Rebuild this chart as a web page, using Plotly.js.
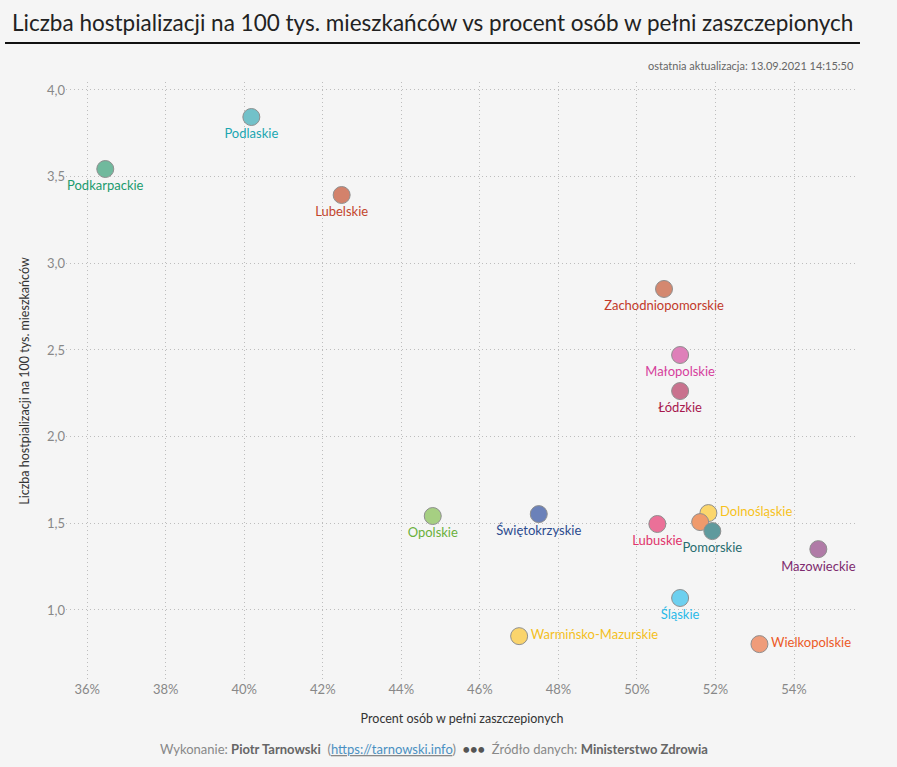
<!DOCTYPE html>
<html><head><meta charset="utf-8">
<script src="https://cdn.plot.ly/plotly-3.0.1.min.js"></script>
<style>html,body{margin:0;padding:0;background:#f5f5f5;}#chart{width:897px;height:767px;}</style>
</head><body><div id="chart"></div>
<script>
const regions = ["Podkarpackie","Podlaskie","Lubelskie","Zachodniopomorskie","Małopolskie","Łódzkie","Opolskie","Świętokrzyskie","Lubuskie","Dolnośląskie","Kujawsko-Pomorskie","Pomorskie","Mazowieckie","Śląskie","Warmińsko-Mazurskie","Wielkopolskie"];
const labels = ["Podkarpackie","Podlaskie","Lubelskie","Zachodniopomorskie","Małopolskie","Łódzkie","Opolskie","Świętokrzyskie","Lubuskie","Dolnośląskie","","Pomorskie","Mazowieckie","Śląskie","Warmińsko-Mazurskie","Wielkopolskie"];
const vaccinatedPct = [36.46,40.18,42.48,50.69,51.10,51.10,44.80,47.50,50.52,51.82,51.61,51.92,54.62,51.10,47.00,53.12];
const hospPer100k = [3.544,3.844,3.394,2.852,2.471,2.263,1.542,1.553,1.496,1.559,1.507,1.455,1.351,1.069,0.849,0.803];
const markerColors = ["#70b99d","#72c1c9","#d3826b","#d4886f","#de80b9","#c9728e","#a6cf82","#6b81b9","#eb7098","#fbd66c","#ef9a6c","#5f9a9d","#b07ba7","#6dd0ef","#fad46c","#ef9c7a"];
const labelColors = ["#1b9b6d","#1aa6b1","#c3452b","#c23a2a","#d6409c","#a8184e","#6ab03b","#2b4b8f","#e0346b","#f7c21d","#ec6a2a","#276c6f","#7e2b6f","#2bb9e8","#f4bf1d","#ec5a27"];
const labelPos = ["bottom center","bottom center","bottom center","bottom center","bottom center","bottom center","bottom center","bottom center","bottom center","middle right","bottom center","bottom center","bottom center","bottom center","middle right","middle right"];
const xTicks = [36,38,40,42,44,46,48,50,52,54];
const yTicks = [1.0,1.5,2.0,2.5,3.0,3.5,4.0];

const FONT = "Lato, 'Open Sans', sans-serif";
const trace = {
  type: 'scatter', mode: 'markers+text',
  x: vaccinatedPct, y: hospPer100k, text: labels, customdata: regions,
  textposition: labelPos,
  textfont: {family: FONT, size: 13, color: labelColors},
  marker: {size: 17, color: markerColors, line: {color: '#8f8f8f', width: 1}},
  hovertemplate: '%{customdata}<br>%{x:.1f}%<br>%{y:.2f}<extra></extra>',
  cliponaxis: false
};
const layout = {
  width: 897, height: 767,
  paper_bgcolor: '#f5f5f5', plot_bgcolor: '#f5f5f5',
  margin: {l: 66, r: 39, t: 82, b: 87},
  separators: ', ',
  showlegend: false,
  font: {family: FONT, color: '#555'},
  xaxis: {
    range: [35.46, 55.63], tickvals: xTicks, ticktext: xTicks.map(v => v + '%'),
    showgrid: true, gridcolor: '#bdbdbd', griddash: '1px,3px', gridwidth: 1,
    zeroline: false, showline: false, ticks: '',
    tickfont: {family: FONT, size: 13, color: '#888'},
    title: {text: 'Procent osób w pełni zaszczepionych', font: {family: FONT, size: 12.5, color: '#333'}, standoff: 18}
  },
  yaxis: {
    range: [0.596, 4.046], tickvals: yTicks, tickformat: '.1f',
    showgrid: true, gridcolor: '#bdbdbd', griddash: '1px,3px', gridwidth: 1,
    zeroline: false, showline: false, ticks: '',
    tickfont: {family: FONT, size: 13, color: '#888'},
    title: {text: 'Liczba hostpializacji na 100 tys. mieszkańców', font: {family: FONT, size: 12.5, color: '#333'}, standoff: 14}
  },
  shapes: [{type: 'line', xref: 'paper', yref: 'paper', x0: -0.077, x1: 1.0025, y0: 1.0652, y1: 1.0652, line: {color: '#111', width: 2}}],
  annotations: [
    {xref: 'paper', yref: 'paper', x: -0.071, y: 1.100, xanchor: 'left', yanchor: 'middle', showarrow: false,
     text: 'Liczba hostpializacji na 100 tys. mieszkańców vs procent osób w pełni zaszczepionych',
     font: {family: FONT, size: 22.5, color: '#222'}},
    {xref: 'paper', yref: 'paper', x: 0.9975, y: 1.028, xanchor: 'right', yanchor: 'middle', showarrow: false,
     text: 'ostatnia aktualizacja: 13.09.2021 14:15:50', font: {family: FONT, size: 11, color: '#666'}},
    {xref: 'paper', yref: 'paper', x: 0.465, y: -0.116, xanchor: 'center', yanchor: 'middle', showarrow: false,
     text: "Wykonanie: <b><span style='color:#666'>Piotr Tarnowski</span></b>  (<u><span style='color:#4a90c2'>https://tarnowski.info</span></u>)  <b><span style='color:#555'>•••</span></b>  Źródło danych: <b><span style='color:#666'>Ministerstwo Zdrowia</span></b>",
     font: {family: FONT, size: 13, color: '#888'}}
  ]
};
Plotly.newPlot('chart', [trace], layout, {displayModeBar: false});
</script></body></html>
